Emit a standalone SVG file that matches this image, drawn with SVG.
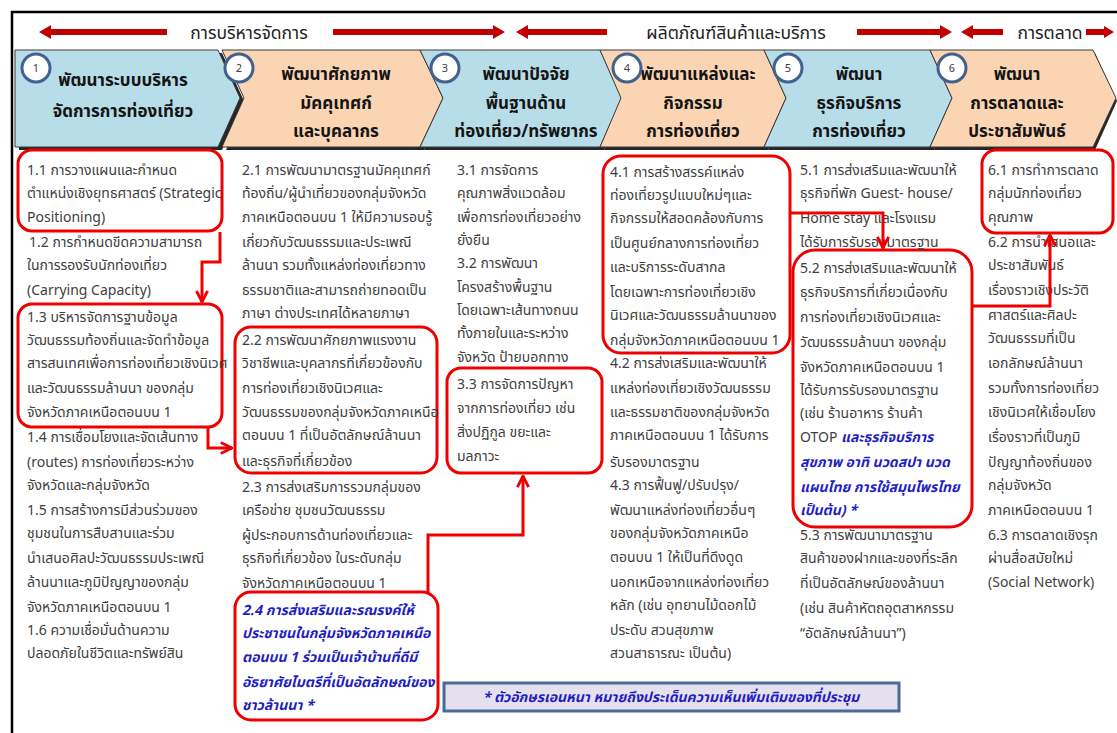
<svg xmlns="http://www.w3.org/2000/svg" width="1117" height="733" viewBox="0 0 1117 733">
<style>
text{font-family:Tahoma,"Noto Sans Thai","Noto Sans","DejaVu Sans",sans-serif}
.t{font-size:14px;fill:#404040}
.bl{font-size:14px;fill:#1f1fbf;font-weight:bold;font-style:italic}
.h{font-size:17px;font-weight:bold;fill:#151515;text-anchor:middle}
.top{font-size:17.5px;fill:#222;text-anchor:middle}
.num{font-size:11px;fill:#404040;text-anchor:middle}
.rb{fill:none;stroke:#ee0000;stroke-width:3}
.cn{fill:none;stroke:#ee0000;stroke-width:3;marker-end:url(#ah)}
.ar{fill:#c00000}
.sh{fill:#000;opacity:.85}
.cb{fill:#b7dde8;stroke:#3a3a3a;stroke-width:1}
.cp{fill:#fbd4b4;stroke:#3a3a3a;stroke-width:1}
.ci{fill:#fff;stroke:#41618f;stroke-width:3}
</style>
<defs>
<marker id="ah" viewBox="0 0 10 10" refX="9" refY="5" markerWidth="14" markerHeight="14" markerUnits="userSpaceOnUse" orient="auto">
<path d="M1,1 L9,5 L1,9" fill="none" stroke="#ee0000" stroke-width="2"/>
</marker>
</defs>
<rect width="1117" height="733" fill="#fff"/>
<path d="M12,733 V12 H1117" fill="none" stroke="#000" stroke-width="2.5"/>
<g id="top-arrows">
<polygon class="ar" points="39,32 51,25 51,29 167,29 167,35 51,35 51,39"/>
<polygon class="ar" points="505,32 493,25 493,29 333,29 333,35 493,35 493,39"/>
<polygon class="ar" points="516,32 528,25 528,29 607,29 607,35 528,35 528,39"/>
<polygon class="ar" points="952,32 940,25 940,29 857,29 857,35 940,35 940,39"/>
<polygon class="ar" points="961,32 973,25 973,29 1003,29 1003,35 973,35 973,39"/>
<polygon class="ar" points="1114,32 1104,26 1104,29 1086,29 1086,35 1104,35 1104,38"/>
<text class="top" x="249" y="39">การบริหารจัดการ</text>
<text class="top" x="736" y="39">ผลิตภัณฑ์สินค้าและบริการ</text>
<text class="top" x="1050" y="39">การตลาด</text>
</g>
<g id="chevrons">
<polygon class="sh" points="19,53 222,53 244,101 222,150 19,150"/>
<polygon class="sh" points="226,53 424,53 447,101 424,150 226,150 248,101"/>
<polygon class="sh" points="424,53 604,53 626,101 604,150 424,150 447,101"/>
<polygon class="sh" points="604,53 768,53 790,101 768,150 604,150 625,101"/>
<polygon class="sh" points="768,53 934,53 956,101 934,150 768,150 790,101"/>
<polygon class="sh" points="934,53 1095,53 1117,101 1095,150 934,150 956,101"/>
</g>
<g id="node1">
<polygon class="cb" points="15,50 218,50 240,98 218,147 15,147"/>
<text class="h" x="123" y="86">พัฒนาระบบบริหาร</text>
<text class="h" x="123" y="117">จัดการการท่องเที่ยว</text>
<circle class="ci" cx="36" cy="68" r="14"/><text class="num" x="36" y="72">1</text>
</g>
<g id="node2">
<polygon class="cp" points="222,50 420,50 443,98 420,147 222,147 244,98"/>
<text class="h" x="336" y="80">พัฒนาศักยภาพ</text>
<text class="h" x="336" y="109">มัคคุเทศก์</text>
<text class="h" x="336" y="137">และบุคลากร</text>
<circle class="ci" cx="239" cy="68" r="14"/><text class="num" x="239" y="72">2</text>
</g>
<g id="node3">
<polygon class="cb" points="420,50 600,50 622,98 600,147 420,147 443,98"/>
<text class="h" x="526" y="80">พัฒนาปัจจัย</text>
<text class="h" x="526" y="109">พื้นฐานด้าน</text>
<text class="h" x="526" y="137">ท่องเที่ยว/ทรัพยากร</text>
<circle class="ci" cx="445" cy="68" r="14"/><text class="num" x="445" y="72">3</text>
</g>
<g id="node4">
<polygon class="cp" points="600,50 764,50 786,98 764,147 600,147 621,98"/>
<text class="h" x="698" y="80">พัฒนาแหล่งและ</text>
<text class="h" x="693" y="109">กิจกรรม</text>
<text class="h" x="693" y="137">การท่องเที่ยว</text>
<circle class="ci" cx="627" cy="68" r="14"/><text class="num" x="627" y="72">4</text>
</g>
<g id="node5">
<polygon class="cb" points="764,50 930,50 952,98 930,147 764,147 786,98"/>
<text class="h" x="859" y="80">พัฒนา</text>
<text class="h" x="859" y="109">ธุรกิจบริการ</text>
<text class="h" x="859" y="137">การท่องเที่ยว</text>
<circle class="ci" cx="788" cy="68" r="14"/><text class="num" x="788" y="72">5</text>
</g>
<g id="node6">
<polygon class="cp" points="930,50 1093,50 1116,98 1093,147 930,147 952,98"/>
<text class="h" x="1017" y="80">พัฒนา</text>
<text class="h" x="1017" y="109">การตลาดและ</text>
<text class="h" x="1017" y="137">ประชาสัมพันธ์</text>
<circle class="ci" cx="952" cy="68" r="14"/><text class="num" x="952" y="72">6</text>
</g>
<g id="col1">
<rect class="rb" x="18" y="150" width="204" height="81" rx="14"/>
<rect class="rb" x="18" y="304" width="204" height="123" rx="14"/>
<text class="t" x="27" y="175">1.1 การวางแผนและกำหนด</text>
<text class="t" x="27" y="198">ตำแหน่งเชิงยุทธศาสตร์ (Strategic</text>
<text class="t" x="27" y="222">Positioning)</text>
<text class="t" x="29" y="247">1.2 การกำหนดขีดความสามารถ</text>
<text class="t" x="27" y="270">ในการรองรับนักท่องเที่ยว</text>
<text class="t" x="27" y="295">(Carrying Capacity)</text>
<text class="t" x="27" y="322">1.3 บริหารจัดการฐานข้อมูล</text>
<text class="t" x="27" y="345">วัฒนธรรมท้องถิ่นและจัดทำข้อมูล</text>
<text class="t" x="27" y="368">สารสนเทศเพื่อการท่องเที่ยวเชิงนิเวศ</text>
<text class="t" x="27" y="393">และวัฒนธรรมล้านนา ของกลุ่ม</text>
<text class="t" x="27" y="417">จังหวัดภาคเหนือตอนบน 1</text>
<text class="t" x="27" y="442">1.4 การเชื่อมโยงและจัดเส้นทาง</text>
<text class="t" x="27" y="467">(routes) การท่องเที่ยวระหว่าง</text>
<text class="t" x="27" y="490">จังหวัดและกลุ่มจังหวัด</text>
<text class="t" x="27" y="515">1.5 การสร้างการมีส่วนร่วมของ</text>
<text class="t" x="27" y="538">ชุมชนในการสืบสานและร่วม</text>
<text class="t" x="27" y="563">นำเสนอศิลปะวัฒนธรรมประเพณี</text>
<text class="t" x="27" y="587">ล้านนาและภูมิปัญญาของกลุ่ม</text>
<text class="t" x="27" y="612">จังหวัดภาคเหนือตอนบน 1</text>
<text class="t" x="27" y="635">1.6 ความเชื่อมั่นด้านความ</text>
<text class="t" x="27" y="658">ปลอดภัยในชีวิตและทรัพย์สิน</text>
</g>
<g id="col2">
<rect class="rb" x="235" y="327" width="202" height="146" rx="16"/>
<rect class="rb" x="235" y="592" width="203" height="128" rx="16"/>
<text class="t" x="242" y="175">2.1 การพัฒนามาตรฐานมัคคุเทศก์</text>
<text class="t" x="242" y="198">ท้องถิ่น/ผู้นำเที่ยวของกลุ่มจังหวัด</text>
<text class="t" x="242" y="222">ภาคเหนือตอนบน 1 ให้มีความรอบรู้</text>
<text class="t" x="242" y="247">เกี่ยวกับวัฒนธรรมและประเพณี</text>
<text class="t" x="242" y="270">ล้านนา รวมทั้งแหล่งท่องเที่ยวทาง</text>
<text class="t" x="242" y="295">ธรรมชาติและสามารถถ่ายทอดเป็น</text>
<text class="t" x="242" y="318">ภาษา ต่างประเทศได้หลายภาษา</text>
<text class="t" x="242" y="345">2.2 การพัฒนาศักยภาพแรงงาน</text>
<text class="t" x="242" y="368">วิชาชีพและบุคลากรที่เกี่ยวข้องกับ</text>
<text class="t" x="242" y="393">การท่องเที่ยวเชิงนิเวศและ</text>
<text class="t" x="242" y="417">วัฒนธรรมของกลุ่มจังหวัดภาคเหนือ</text>
<text class="t" x="242" y="440">ตอนบน 1 ที่เป็นอัตลักษณ์ล้านนา</text>
<text class="t" x="242" y="466">และธุรกิจที่เกี่ยวข้อง</text>
<text class="t" x="242" y="492">2.3 การส่งเสริมการรวมกลุ่มของ</text>
<text class="t" x="242" y="515">เครือข่าย ชุมชนวัฒนธรรม</text>
<text class="t" x="242" y="540">ผู้ประกอบการด้านท่องเที่ยวและ</text>
<text class="t" x="242" y="563">ธุรกิจที่เกี่ยวข้อง ในระดับกลุ่ม</text>
<text class="t" x="242" y="588">จังหวัดภาคเหนือตอนบน 1</text>
<text class="bl" x="242" y="615">2.4  การส่งเสริมและรณรงค์ให้</text>
<text class="bl" x="242" y="638">ประชาชนในกลุ่มจังหวัดภาคเหนือ</text>
<text class="bl" x="242" y="662">ตอนบน 1 ร่วมเป็นเจ้าบ้านที่ดีมี</text>
<text class="bl" x="242" y="687">อัธยาศัยไมตรีที่เป็นอัตลักษณ์ของ</text>
<text class="bl" x="242" y="710">ชาวล้านนา *</text>
</g>
<g id="col3">
<rect class="rb" x="447" y="368" width="155" height="105" rx="14"/>
<text class="t" x="457" y="175">3.1 การจัดการ</text>
<text class="t" x="457" y="198">คุณภาพสิ่งแวดล้อม</text>
<text class="t" x="457" y="222">เพื่อการท่องเที่ยวอย่าง</text>
<text class="t" x="457" y="245">ยั่งยืน</text>
<text class="t" x="457" y="268">3.2 การพัฒนา</text>
<text class="t" x="457" y="292">โครงสร้างพื้นฐาน</text>
<text class="t" x="457" y="315">โดยเฉพาะเส้นทางถนน</text>
<text class="t" x="457" y="338">ทั้งภายในและระหว่าง</text>
<text class="t" x="457" y="362">จังหวัด ป้ายบอกทาง</text>
<text class="t" x="457" y="389">3.3 การจัดการปัญหา</text>
<text class="t" x="457" y="413">จากการท่องเที่ยว เช่น</text>
<text class="t" x="457" y="437">สิ่งปฏิกูล ขยะและ</text>
<text class="t" x="457" y="461">มลภาวะ</text>
</g>
<g id="col4">
<rect class="rb" x="603" y="156" width="187" height="197" rx="18"/>
<text class="t" x="610" y="177">4.1 การสร้างสรรค์แหล่ง</text>
<text class="t" x="610" y="200">ท่องเที่ยวรูปแบบใหม่ๆและ</text>
<text class="t" x="610" y="223">กิจกรรมให้สอดคล้องกับการ</text>
<text class="t" x="610" y="248">เป็นศูนย์กลางการท่องเที่ยว</text>
<text class="t" x="610" y="272">และบริการระดับสากล</text>
<text class="t" x="610" y="297">โดยเฉพาะการท่องเที่ยวเชิง</text>
<text class="t" x="610" y="320">นิเวศและวัฒนธรรมล้านนาของ</text>
<text class="t" x="610" y="345">กลุ่มจังหวัดภาคเหนือตอนบน 1</text>
<text class="t" x="610" y="368">4.2 การส่งเสริมและพัฒนาให้</text>
<text class="t" x="610" y="393">แหล่งท่องเที่ยวเชิงวัฒนธรรม</text>
<text class="t" x="610" y="417">และธรรมชาติของกลุ่มจังหวัด</text>
<text class="t" x="610" y="440">ภาคเหนือตอนบน 1 ได้รับการ</text>
<text class="t" x="610" y="467">รับรองมาตรฐาน</text>
<text class="t" x="610" y="490">4.3 การฟื้นฟู/ปรับปรุง/</text>
<text class="t" x="610" y="515">พัฒนาแหล่งท่องเที่ยวอื่นๆ</text>
<text class="t" x="610" y="538">ของกลุ่มจังหวัดภาคเหนือ</text>
<text class="t" x="610" y="562">ตอนบน 1 ให้เป็นที่ดึงดูด</text>
<text class="t" x="610" y="587">นอกเหนือจากแหล่งท่องเที่ยว</text>
<text class="t" x="610" y="610">หลัก (เช่น อุทยานไม้ดอกไม้</text>
<text class="t" x="610" y="635">ประดับ สวนสุขภาพ</text>
<text class="t" x="610" y="658">สวนสาธารณะ เป็นต้น)</text>
</g>
<g id="col5">
<rect class="rb" x="793" y="250" width="179" height="277" rx="22"/>
<text class="t" x="800" y="175">5.1 การส่งเสริมและพัฒนาให้</text>
<text class="t" x="800" y="198">ธุรกิจที่พัก Guest- house/</text>
<text class="t" x="800" y="223">Home stay และโรงแรม</text>
<text class="t" x="800" y="247">ได้รับการรับรองมาตรฐาน</text>
<text class="t" x="800" y="273">5.2 การส่งเสริมและพัฒนาให้</text>
<text class="t" x="800" y="297">ธุรกิจบริการที่เกี่ยวเนื่องกับ</text>
<text class="t" x="800" y="322">การท่องเที่ยวเชิงนิเวศและ</text>
<text class="t" x="800" y="347">วัฒนธรรมล้านนา ของกลุ่ม</text>
<text class="t" x="800" y="372">จังหวัดภาคเหนือตอนบน 1</text>
<text class="t" x="800" y="395">ได้รับการรับรองมาตรฐาน</text>
<text class="t" x="800" y="418">(เช่น ร้านอาหาร ร้านค้า</text>
<text class="t" x="800" y="442">OTOP <tspan class="bl">และธุรกิจบริการ</tspan></text>
<text class="bl" x="800" y="467">สุขภาพ อาทิ นวดสปา นวด</text>
<text class="bl" x="800" y="492">แผนไทย การใช้สมุนไพรไทย</text>
<text class="bl" x="800" y="515">เป็นต้น) *</text>
<text class="t" x="800" y="540">5.3 การพัฒนามาตรฐาน</text>
<text class="t" x="800" y="563">สินค้าของฝากและของที่ระลึก</text>
<text class="t" x="800" y="588">ที่เป็นอัตลักษณ์ของล้านนา</text>
<text class="t" x="800" y="613">(เช่น สินค้าหัตถอุตสาหกรรม</text>
<text class="t" x="800" y="638">“อัตลักษณ์ล้านนา”)</text>
</g>
<g id="col6">
<rect class="rb" x="982" y="150" width="131" height="83" rx="14"/>
<text class="t" x="988" y="175">6.1 การทำการตลาด</text>
<text class="t" x="988" y="198">กลุ่มนักท่องเที่ยว</text>
<text class="t" x="988" y="222">คุณภาพ</text>
<text class="t" x="988" y="247">6.2 การนำเสนอและ</text>
<text class="t" x="988" y="270">ประชาสัมพันธ์</text>
<text class="t" x="988" y="295">เรื่องราวเชิงประวัติ</text>
<text class="t" x="988" y="320">ศาสตร์และศิลปะ</text>
<text class="t" x="988" y="343">วัฒนธรรมที่เป็น</text>
<text class="t" x="988" y="368">เอกลักษณ์ล้านนา</text>
<text class="t" x="988" y="393">รวมทั้งการท่องเที่ยว</text>
<text class="t" x="988" y="417">เชิงนิเวศให้เชื่อมโยง</text>
<text class="t" x="988" y="442">เรื่องราวที่เป็นภูมิ</text>
<text class="t" x="988" y="467">ปัญญาท้องถิ่นของ</text>
<text class="t" x="988" y="490">กลุ่มจังหวัด</text>
<text class="t" x="988" y="515">ภาคเหนือตอนบน 1</text>
<text class="t" x="988" y="540">6.3 การตลาดเชิงรุก</text>
<text class="t" x="988" y="563">ผ่านสื่อสมัยใหม่</text>
<text class="t" x="988" y="587">(Social Network)</text>
</g>
<g id="note">
<rect x="444" y="683" width="455" height="28" fill="#e5e0ee" stroke="#4a6a98" stroke-width="3"/>
<text class="bl" x="671" y="702" text-anchor="middle">* ตัวอักษรเอนหนา หมายถึงประเด็นความเห็นเพิ่มเติมของที่ประชุม</text>
</g>
<g id="connectors">
<path class="cn" d="M220,232 V262 H202 V302"/>
<path class="cn" d="M208,428 V448 H232"/>
<path class="cn" d="M428,592 V535 H523 V476"/>
<path class="cn" d="M790,213 H883 V248"/>
<path class="cn" d="M972,306 H1050 V235"/>
</g>
</svg>
